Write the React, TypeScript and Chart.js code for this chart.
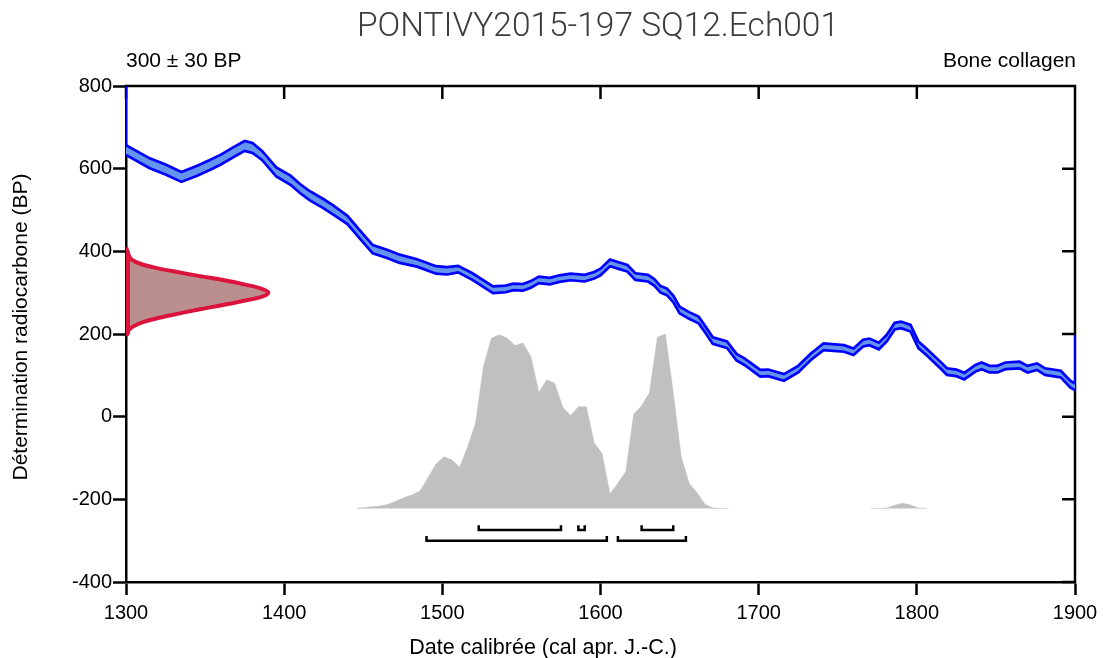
import React, { useEffect, useRef } from "react";
import { Chart, registerables } from "chart.js";

Chart.register(...registerables);

// ---------- texts ----------
const TITLE = "PONTIVY2015-197 SQ12.Ech001";
const MEASURE_LABEL = "300 ± 30 BP";
const MATERIAL_LABEL = "Bone collagen";
const X_TITLE = "Date calibrée (cal apr. J.-C.)";
const Y_TITLE = "Détermination radiocarbone (BP)";

// ---------- axes ----------
const xTicks = [1300, 1400, 1500, 1600, 1700, 1800, 1900];
const yTicks = [-400, -200, 0, 200, 400, 600, 800];

// ---------- calibration curve (cal year AD -> BP, with 1 sigma) ----------
const curveYears = [
  1300, 1315, 1325, 1335, 1345, 1353, 1360, 1368, 1375, 1380,
  1386, 1395, 1404, 1410, 1416, 1425, 1431, 1440, 1448, 1456,
  1465, 1473, 1484, 1496, 1503, 1510, 1519, 1532, 1540, 1545,
  1551, 1556, 1561, 1568, 1574, 1581, 1590, 1596, 1600, 1606,
  1612, 1617, 1622, 1630, 1634, 1638, 1642, 1646, 1650, 1656,
  1662, 1665, 1671, 1680, 1686, 1691, 1701, 1706, 1716, 1725,
  1733, 1741, 1754, 1760, 1766, 1770, 1776, 1781, 1786, 1790,
  1796, 1801, 1806, 1816, 1819, 1825, 1830, 1837, 1841, 1846,
  1851, 1856, 1865, 1870, 1876, 1881, 1891, 1897, 1900,
];
const curveBP = [
  645, 613, 598, 580, 595, 609, 622, 640, 655, 650,
  632, 592, 572, 552, 535, 515, 500, 476, 440, 405,
  394, 382, 372, 355, 353, 357, 339, 307, 309, 314,
  313, 320, 331, 328, 334, 338, 335, 342, 350, 372,
  365, 359, 339, 335, 325, 308, 302, 285, 258, 245,
  234, 218, 184, 174, 144, 133, 105, 106, 95, 115,
  145, 169, 165, 157, 178, 181, 171, 190, 219, 222,
  214, 174, 157, 121, 109, 106, 98, 117, 123, 115,
  115, 123, 125, 115, 121, 109, 103, 79, 72,
];
const curveErr = [
  12, 12, 12, 12, 12, 12, 12, 12, 12, 12,
  11, 11, 11, 11, 11, 11, 11, 10, 10, 10,
  10, 10, 9, 9, 9, 8, 8, 8, 8, 8,
  8, 8, 8, 8, 8, 8, 8, 8, 8, 8,
  8, 8, 8, 8, 8, 8, 8, 8, 8, 8,
  8, 8, 8, 8, 8, 8, 8, 8, 8, 8,
  8, 8, 8, 8, 8, 8, 8, 8, 8, 8,
  8, 8, 8, 8, 8, 8, 8, 8, 8, 8,
  8, 8, 8, 8, 8, 8, 8, 8, 8,
];
// vertical closing strokes of the curve at the plot edges (BP values)
const curveEdgeLeft = [800, 655];
const curveEdgeRight = [197, 64];

// ---------- measurement density (BP -> relative density) ----------
const measureBP = [
  410, 400, 390, 380, 370, 360, 350, 340, 330, 320, 310, 300,
  290, 280, 270, 260, 250, 240, 230, 220, 210, 200, 195,
];
const measureDensity = [
  0, 0.01, 0.02, 0.04, 0.1, 0.21, 0.36, 0.52, 0.69, 0.83, 0.95, 1.0,
  0.95, 0.82, 0.68, 0.52, 0.38, 0.24, 0.13, 0.06, 0.02, 0.01, 0,
];
const measureBaseYear = 1300;
const measureSpanYears = 90;

// ---------- calibrated date density ----------
const calibYears = [
  1446, 1451, 1456, 1461, 1466, 1471, 1476, 1481, 1486, 1491,
  1496, 1501, 1506, 1511, 1516, 1521, 1526, 1531, 1536, 1541,
  1546, 1551, 1556, 1561, 1566, 1571, 1576, 1581, 1586, 1591,
  1596, 1601, 1606, 1611, 1616, 1621, 1626, 1631, 1636, 1641,
  1646, 1651, 1656, 1661, 1666, 1671, 1676, 1681,
  1721,
  1771, 1776, 1781, 1786, 1791, 1796, 1801, 1806,
];
const calibDensity: (number | null)[] = [
  0.001, 0.005, 0.01, 0.014, 0.024, 0.043, 0.062, 0.078, 0.1, 0.178,
  0.254, 0.296, 0.277, 0.237, 0.353, 0.488, 0.813, 0.976, 0.995, 0.976,
  0.934, 0.948, 0.87, 0.664, 0.737, 0.718, 0.583, 0.531, 0.583, 0.583,
  0.377, 0.313, 0.083, 0.145, 0.211, 0.54, 0.588, 0.664, 0.981, 1.0,
  0.661, 0.296, 0.145, 0.09, 0.024, 0.002, 0.001, 0,
  null,
  0, 0, 0.002, 0.018, 0.03, 0.02, 0.002, 0,
];
const calibBaseBP = -222;
const calibHeightBP = 422;

// ---------- HPD intervals ----------
const hpd68 = [
  [1523, 1575],
  [1586, 1590],
  [1626, 1646],
];
const hpd95 = [
  [1490, 1604],
  [1611, 1654],
];
const hpd68Level = -274;
const hpd95Level = -300;
const hpdTickBP = 11;

// ---------- styles ----------
const BLUE = "#0000ff";
const CORNFLOWER = "#6495ed";
const CRIMSON = "#dc143c";
const ROSY = "#bc8f8f";
const SILVER = "#c0c0c0";
const SANS = "'Liberation Sans', Arial, sans-serif";
const AXIS_W = 2.5;
const TICK_LEN = 13;

const framePlugin = {
  id: "frameAndTexts",
  beforeDatasetsDraw(chart: any) {
    const { ctx, chartArea: a, scales } = chart;
    const xs = scales.x;
    const ys = scales.y;
    ctx.save();
    ctx.strokeStyle = "#000";
    ctx.lineWidth = AXIS_W;
    ctx.lineCap = "butt";
    ctx.beginPath();
    ctx.moveTo(a.left - AXIS_W / 2, a.top);
    ctx.lineTo(a.right, a.top);
    ctx.moveTo(a.right, a.top - AXIS_W / 2);
    ctx.lineTo(a.right, a.bottom + AXIS_W / 2);
    for (const t of xs.ticks) {
      const px = xs.getPixelForValue(t.value);
      ctx.moveTo(px, a.top);
      ctx.lineTo(px, a.top + TICK_LEN);
    }
    for (const t of ys.ticks) {
      const py = ys.getPixelForValue(t.value);
      ctx.moveTo(a.right, py);
      ctx.lineTo(a.right - TICK_LEN, py);
    }
    ctx.stroke();
    ctx.restore();
  },
  afterDraw(chart: any) {
    const { ctx, chartArea: a } = chart;
    ctx.save();
    ctx.textBaseline = "middle";
    ctx.fillStyle = "#3c3c3c";
    ctx.font = "300 33.5px Roboto, 'Liberation Sans', sans-serif";
    ctx.textAlign = "center";
    ctx.fillText(TITLE, 598, 28);

    ctx.fillStyle = "#000";
    ctx.font = `21px ${SANS}`;
    ctx.textAlign = "left";
    ctx.fillText(MEASURE_LABEL, a.left, 61);
    ctx.textAlign = "right";
    ctx.fillText(MATERIAL_LABEL, a.right + 1, 61);

    ctx.textAlign = "center";
    ctx.font = `21.5px ${SANS}`;
    ctx.fillText(X_TITLE, 543, 648);

    ctx.font = `21px ${SANS}`;
    ctx.translate(21, 327);
    ctx.rotate(-Math.PI / 2);
    ctx.fillText(Y_TITLE, 0, 0);
    ctx.restore();
  },
};

function bracket(interval: number[], level: number) {
  return [
    { x: interval[0], y: level + hpdTickBP },
    { x: interval[0], y: level },
    { x: interval[1], y: level },
    { x: interval[1], y: level + hpdTickBP },
  ];
}

export default function App() {
  const ref = useRef<HTMLCanvasElement>(null);

  useEffect(() => {
    if (!ref.current) return;
    const upper = curveYears.map((yr, i) => ({ x: yr, y: curveBP[i] + curveErr[i] }));
    const lower = curveYears.map((yr, i) => ({ x: yr, y: curveBP[i] - curveErr[i] }));
    const measure = measureBP.map((v, i) => ({
      x: measureBaseYear + measureDensity[i] * measureSpanYears,
      y: v,
    }));
    const calib = calibYears.map((yr, i) => ({
      x: yr,
      y: calibDensity[i] === null ? null : calibBaseBP + (calibDensity[i] as number) * calibHeightBP,
    }));

    const bracketSets = [
      ...hpd68.map((iv) => bracket(iv, hpd68Level)),
      ...hpd95.map((iv) => bracket(iv, hpd95Level)),
    ].map((pts, i) => ({
      label: "hpd" + i,
      data: pts,
      borderColor: "#000",
      borderWidth: 2.5,
      borderJoinStyle: "miter",
      borderCapStyle: "butt",
      pointRadius: 0,
      fill: false,
    }));

    const chart = new Chart(ref.current, {
      type: "line",
      data: {
        datasets: [
          {
            label: "curveUpper",
            data: upper,
            borderColor: BLUE,
            borderWidth: 2.7,
            pointRadius: 0,
            fill: false,
          },
          {
            label: "curveLower",
            data: lower,
            borderColor: BLUE,
            borderWidth: 2.7,
            pointRadius: 0,
            backgroundColor: CORNFLOWER,
            fill: "-1",
          },
          {
            label: "edgeLeft",
            data: curveEdgeLeft.map((v) => ({ x: 1300, y: v })),
            borderColor: BLUE,
            borderWidth: 2,
            pointRadius: 0,
            fill: false,
          },
          {
            label: "edgeRight",
            data: curveEdgeRight.map((v) => ({ x: 1900, y: v })),
            borderColor: BLUE,
            borderWidth: 2,
            pointRadius: 0,
            fill: false,
          },
          {
            label: "measureBase",
            data: [
              { x: measureBaseYear, y: measureBP[1] },
              { x: measureBaseYear, y: measureBP[measureBP.length - 2] },
            ],
            borderColor: CRIMSON,
            borderWidth: 8,
            pointRadius: 0,
            fill: false,
            clip: 0,
          },
          {
            label: "measure",
            indexAxis: "y",
            data: measure,
            borderColor: CRIMSON,
            borderWidth: 4,
            pointRadius: 0,
            tension: 0.35,
            backgroundColor: ROSY,
            fill: { value: measureBaseYear },
            clip: 0,
          },
          {
            label: "calibrated",
            data: calib,
            borderColor: "rgba(192,192,192,0.6)",
            borderWidth: 1,
            pointRadius: 0,
            backgroundColor: SILVER,
            fill: { value: calibBaseBP },
          },
          ...bracketSets,
        ] as any,
      },
      options: {
        responsive: false,
        devicePixelRatio: 1,
        animation: false,
        events: [],
        layout: { padding: { left: 0, right: 33, top: 86, bottom: 0 } },
        elements: { line: { tension: 0 }, point: { radius: 0 } },
        plugins: {
          legend: { display: false },
          tooltip: { enabled: false },
          title: { display: false },
        },
        scales: {
          x: {
            type: "linear",
            position: "bottom",
            min: 1300,
            max: 1900,
            afterBuildTicks: (s: any) => {
              s.ticks = xTicks.map((v) => ({ value: v }));
            },
            afterFit: (s: any) => {
              s.height = 76;
              s.paddingLeft = 0;
              s.paddingRight = 0;
            },
            ticks: {
              color: "#000",
              font: { family: SANS, size: 20 },
              padding: 6,
              maxRotation: 0,
              autoSkip: false,
              callback: (v: any) => String(v),
            },
            grid: {
              drawOnChartArea: false,
              drawTicks: true,
              tickLength: TICK_LEN,
              tickWidth: AXIS_W,
              tickColor: "#000",
            },
            border: { display: true, color: "#000", width: AXIS_W },
          },
          y: {
            type: "linear",
            position: "left",
            min: -400,
            max: 800,
            afterBuildTicks: (s: any) => {
              s.ticks = yTicks.map((v) => ({ value: v }));
            },
            afterFit: (s: any) => {
              s.width = 126;
              s.paddingTop = 0;
              s.paddingBottom = 0;
            },
            ticks: {
              color: "#000",
              font: { family: SANS, size: 20 },
              padding: 1,
              autoSkip: false,
              callback: (v: any) => String(v),
            },
            grid: {
              drawOnChartArea: false,
              drawTicks: true,
              tickLength: TICK_LEN,
              tickWidth: AXIS_W,
              tickColor: "#000",
            },
            border: { display: true, color: "#000", width: AXIS_W },
          },
        },
      } as any,
      plugins: [framePlugin],
    });
    return () => chart.destroy();
  }, []);

  return (
    <div style={{ position: "absolute", left: 0, top: 0, width: 1108, height: 658 }}>
      <canvas ref={ref} width={1108} height={658} style={{ display: "block", width: 1108, height: 658 }} />
    </div>
  );
}
